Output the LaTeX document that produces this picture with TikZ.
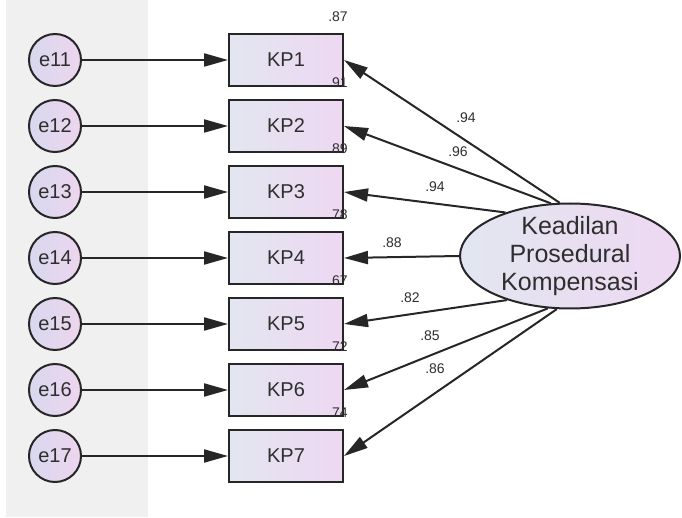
\documentclass[tikz,border=0pt]{standalone}
\usepackage{fontspec}
\setmainfont{Liberation Sans}
\usetikzlibrary{shapes.geometric,arrows.meta}
\definecolor{panelgrey}{HTML}{F0F0F0}
\definecolor{ink}{HTML}{262626}
\definecolor{txt}{HTML}{2E2E2E}
\definecolor{boxleft}{HTML}{E2E6F0}
\definecolor{boxright}{HTML}{EED8F2}
\definecolor{errleft}{HTML}{D8D8EE}
\definecolor{errright}{HTML}{EDD6EE}
\tikzset{
  obsbox/.style={draw=ink, line width=2pt, left color=boxleft, right color=boxright,
    minimum width=114pt, minimum height=52pt, inner sep=0pt,
    font=\fontsize{20}{23}\selectfont, text=txt},
  errcirc/.style={circle, draw=ink, line width=2pt, left color=errleft, right color=errright,
    minimum size=52pt, inner sep=0pt, font=\fontsize{20}{23}\selectfont, text=txt},
  latent/.style={ellipse, draw=ink, line width=2pt, left color=boxleft, right color=boxright,
    minimum width=220pt, minimum height=105pt, inner sep=-15pt, align=center,
    font=\fontsize{25}{28}\selectfont, text=txt},
  path/.style={draw=ink, line width=2pt, -{Triangle[length=24pt,width=13pt]}},
  coef/.style={font=\fontsize{14}{16}\selectfont, text=txt, inner sep=0pt},
}
\begin{document}
\begin{tikzpicture}[x=1pt,y=-1pt]
\useasboundingbox (0,0) rectangle (682,518);
% grey strip behind the error terms
\fill[panelgrey] (6,0) rectangle (148,517);

% observed indicators and their error terms
\foreach \i/\y in {1/60,2/126,3/192,4/258,5/324,6/390,7/456}{
  \node[obsbox] (k\i) at (286,\y) {KP\i};
  \node[errcirc] (e\i) at (55,\y) {e1\i};
  \draw[path] (e\i) -- (k\i);
}

% latent factor
\node[latent] (f) at (570,256) {Keadilan\\Prosedural\\Kompensasi};

% loadings
\draw[path] (f.101) -- (k1.east);
\draw[path] (f.110) -- (k2.east);
\draw[path] (f.146) -- (k3.east);
\draw[path] (f.west) -- (k4.east);
\draw[path] (f.215) -- (k5.east);
\draw[path] (f.247) -- (k6.east);
\draw[path] (f.256) -- (k7.east);

\node[coef] (l1) at (466,118) {.94};
\node[coef] (l2) at (458,152) {.96};
\node[coef] (l3) at (435,187) {.94};
\node[coef] (l4) at (392,243) {.88};
\node[coef] (l5) at (410,298) {.82};
\node[coef] (l6) at (430,336) {.85};
\node[coef] (l7) at (435,369) {.86};

% squared multiple correlations
\foreach \i/\r in {1/.87,2/.91,3/.89,4/.78,5/.67,6/.72,7/.74}{
  \node[coef] (r\i) at ([xshift=-6pt,yshift=16pt]k\i.north east) {\r};
}
\end{tikzpicture}
\end{document}
